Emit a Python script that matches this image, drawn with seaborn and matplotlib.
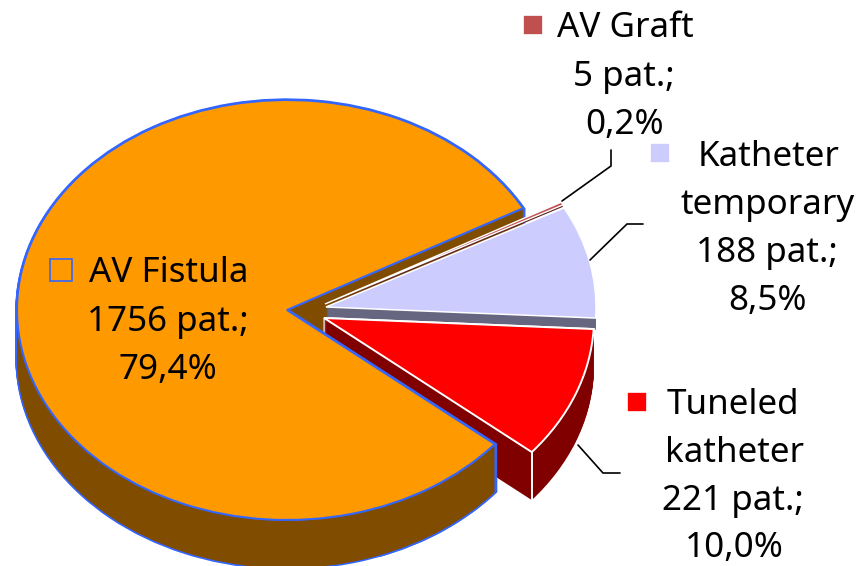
import matplotlib
matplotlib.use("Agg")
import matplotlib.pyplot as plt
from matplotlib.patches import Rectangle, Wedge
import numpy as np
import seaborn as sns

# data, counter clockwise starting at the top of the big slice
access_types = ["AV Fistula", "Tuneled katheter", "Katheter temporary", "AV Graft"]
patients = [1756, 221, 188, 5]
percent_labels = ["79,4%", "10,0%", "8,5%", "0,2%"]
patient_labels = ["1756 pat.;", "221 pat.;", "188 pat.;", "5 pat.;"]

top_colors = ["#FF9900", "#FF0000", "#CCCCFF", "#C0504D"]
wall_colors = ["#7F4C00", "#800000", "#666680", "#602525"]
key_colors = ["#FF9900", "#FF0000", "#CCCCFF", "#C0504D"]

WIDTH, HEIGHT = 858, 566
RX, RY = 270.0, 210.0
START = 29
BLUE = "#3366FF"

sns.set_theme(style="white")
plt.rcParams["font.family"] = ["Noto Sans", "DejaVu Sans"]

fig = plt.figure(figsize=(WIDTH / 100, HEIGHT / 100), dpi=100)
ax = fig.add_axes([0, 0, 1, 1])
ax_px = fig.add_axes([0, 0, 1, 1], facecolor="none", zorder=5)
ax_px.set_xlim(0, WIDTH)
ax_px.set_ylim(HEIGHT, 0)
ax_px.axis("off")


def center_of(x, y):
    return (x / RX, (HEIGHT - y) / RY)


def draw_slice(i, x, y, color, edge="none", lw=0.0):
    wedges, _ = ax.pie(patients, startangle=START, center=center_of(x, y), radius=1,
                       colors=[color] * len(patients),
                       wedgeprops={"edgecolor": edge, "linewidth": lw})
    for j, w in enumerate(wedges):
        if j != i:
            w.remove()


def draw_wall(i, x, y, depth, edge=None, lw=0.0):
    # stack of shifted copies, the first pass only leaves the outline around the wall
    if edge is not None:
        for d in range(depth, -1, -1):
            draw_slice(i, x, y + d, wall_colors[i], edge=edge, lw=lw)
    for d in range(depth, -1, -1):
        draw_slice(i, x, y + d, wall_colors[i])


# big slice wall goes first, the pulled out slices sit over it
draw_wall(0, 287, 310, 48, edge=BLUE, lw=2.4)

draw_wall(3, 325, 304, 2)
draw_slice(3, 325, 304, top_colors[3], edge="white", lw=1.0)

draw_wall(2, 326, 307, 12)
draw_slice(2, 326, 307, top_colors[2], edge="white", lw=1.1)

draw_wall(1, 324, 318, 48, edge="white", lw=1.4)
draw_slice(1, 324, 318, top_colors[1], edge="white", lw=1.4)

# white corner on the front of the red slice
shares = np.array(patients) / sum(patients) * 360
end_angle = START + shares[0]
tip = np.deg2rad(end_angle)
tip_x = 324 + RX * np.cos(tip)
tip_y = 318 - RY * np.sin(tip)
ax_px.plot([tip_x, tip_x], [tip_y, tip_y + 48], color="white", lw=1.4)

# front part of the big slice wall covers the red wall, fill is wider to hide the seam
for d in range(48, -1, -1):
    ax.add_patch(Wedge(center_of(287, 310 + d), 1, end_angle - 30, end_angle,
                       facecolor=wall_colors[0], edgecolor=BLUE, linewidth=2.4))
for d in range(48, -1, -1):
    ax.add_patch(Wedge(center_of(287, 310 + d), 1, end_angle - 60, end_angle,
                       facecolor=wall_colors[0], edgecolor="none", linewidth=0))
draw_slice(0, 287, 310, top_colors[0], edge=BLUE, lw=1.5)

ax.set_aspect("auto")
ax.set_xlim(0, WIDTH / RX)
ax.set_ylim(0, HEIGHT / RY)
ax.axis("off")

# leader lines
leaders = [
    ([578, 603, 620], [445, 473, 473]),
    ([590, 627, 643], [260, 224, 224]),
    ([562, 611, 611], [201, 166, 150]),
]
for xs, ys in leaders:
    ax_px.plot(xs, ys, color="black", lw=1.2, solid_joinstyle="miter")

FONT = 25.2
label_rows = [
    (0, "AV Fistula", 169, 282), (0, patient_labels[0], 168, 331), (0, percent_labels[0], 168, 379),
    (3, "AV Graft", 625, 37), (3, patient_labels[3], 624, 86), (3, percent_labels[3], 625, 134),
    (2, "Katheter", 769, 166), (2, "temporary", 768, 214), (2, patient_labels[2], 767, 262),
    (2, percent_labels[2], 767, 310),
    (1, "Tuneled", 733, 414), (1, "katheter", 734, 462), (1, patient_labels[1], 733, 510),
    (1, percent_labels[1], 734, 557),
]
for _, s, x, y in label_rows:
    ax_px.text(x, y, s, ha="center", va="baseline", fontsize=FONT, color="black")

keys = [(0, 50, 259, 22), (3, 523, 15, 20), (2, 650, 143, 20), (1, 627, 392, 20)]
for i, x, y, size in keys:
    edge = BLUE if i == 0 else "white"
    ax_px.add_patch(Rectangle((x, y), size, size, facecolor=key_colors[i], edgecolor=edge, lw=1.2))

fig.savefig("out.png", dpi=100, facecolor="white")
